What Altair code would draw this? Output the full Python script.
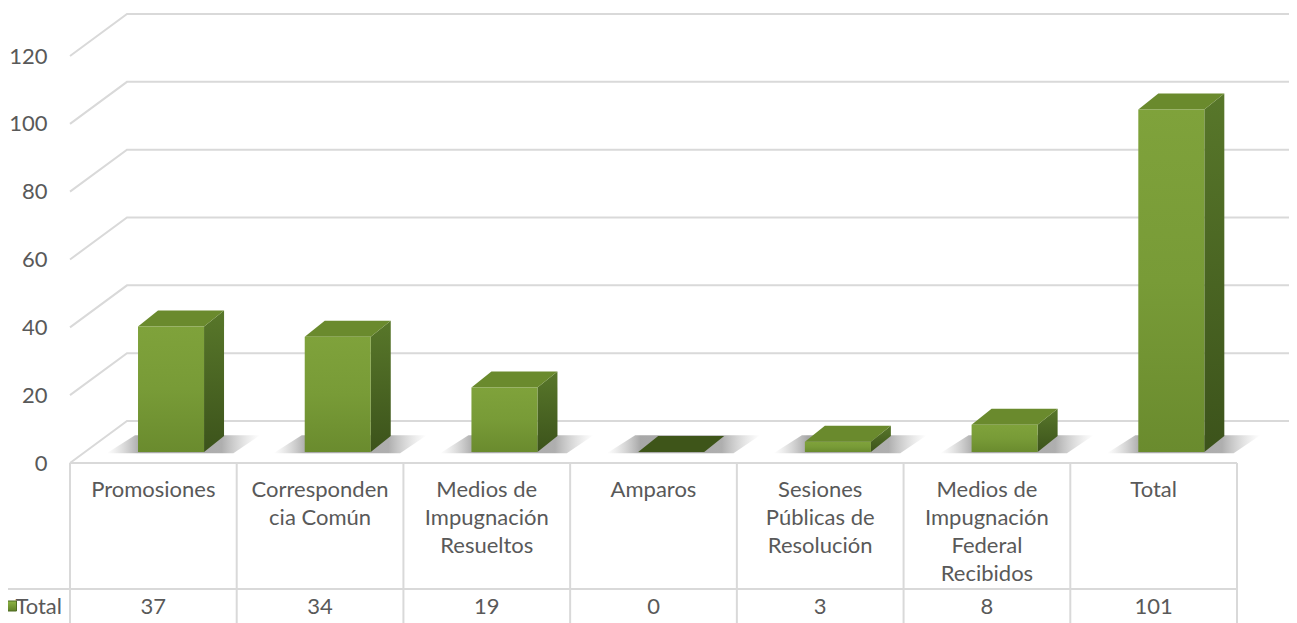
import altair as alt
import pandas as pd

# ---------------- data ----------------
categories = [
    "Promosiones",
    "Corresponden\ncia Común",
    "Medios de\nImpugnación\nResueltos",
    "Amparos",
    "Sesiones\nPúblicas de\nResolución",
    "Medios de\nImpugnación\nFederal\nRecibidos",
    "Total",
]
values = [37, 34, 19, 0, 3, 8, 101]
series_name = "Total"
y_ticks = [0, 20, 40, 60, 80, 100, 120]

# ---------------- layout constants ----------------
n = len(categories)
PLOT_W, PLOT_H = 1167, 407
PX = PLOT_H / y_ticks[-1]          # pixels per value unit
COL = PLOT_W / n                   # pixels per column unit

FACE_L, FACE_R = 0.408, 0.804      # front face within a column (column units)
DEPTH_X = 20 / COL                 # 3D depth offset (column units)
DEPTH_Y = 16 / PX                  # 3D depth offset (value units)
BAR_BASE = 11 / PX                 # bars stand at mid depth
WALL_X, WALL_Y = 57 / COL, 42 / PX # back wall offset
GRID_END = 7.4

def below(px):
    return -px / PX

HDR_BOTTOM = below(126)
HDR_BASE = below(34)
VAL_BASE = below(151)
TABLE_BOTTOM = below(170)

FONT = "Lato"
TXT = "#595959"
LINE = "#d9d9d9"

bars = pd.DataFrame({"category": categories, "value": values, "idx": list(range(n))})
grid = pd.DataFrame({"g": y_ticks})
bounds = pd.DataFrame({"edge": list(range(n + 1))})
series = pd.DataFrame({"series": [series_name]})

xs = alt.Scale(domain=[0, n], nice=False, zero=False)
ys = alt.Scale(domain=[0, y_ticks[-1]], nice=False, zero=False)
yax = alt.Axis(values=y_ticks, title=None, domain=False, ticks=False, grid=False,
               labelFont=FONT, labelFontSize=22, labelColor=TXT, labelPadding=23)


def X(f):
    return alt.X(f, scale=xs, axis=None, title=None)


def X2(f):
    return alt.X2(f)


def Y(f):
    return alt.Y(f, scale=ys, axis=yax, title=None)


def lin(c0, c1, vertical=True):
    return alt.Gradient(
        gradient="linear",
        stops=[alt.GradientStop(color=c0, offset=0), alt.GradientStop(color=c1, offset=1)],
        x1=0, y1=0, x2=0 if vertical else 1, y2=1 if vertical else 0,
    )


front_grad = alt.Gradient(
    gradient="linear",
    stops=[alt.GradientStop(color="#7fa23b", offset=0),
           alt.GradientStop(color="#789b37", offset=0.5),
           alt.GradientStop(color="#6a8b2e", offset=1)],
    x1=0, y1=0, x2=0, y2=1,
)
side_grad = lin("#58772a", "#3c531b")
shadow_grad = alt.Gradient(
    gradient="linear",
    stops=[alt.GradientStop(color="rgba(150,150,150,0)", offset=0),
           alt.GradientStop(color="rgba(95,95,95,0.55)", offset=0.22),
           alt.GradientStop(color="rgba(95,95,95,0.5)", offset=0.75),
           alt.GradientStop(color="rgba(150,150,150,0)", offset=1)],
    x1=0, y1=0, x2=1, y2=0,
)

# ---------------- gridlines / walls ----------------
grid_layer = alt.Chart(grid).transform_calculate(
    k="[0, 1, 2]"
).transform_flatten(["k"]).transform_calculate(
    gx=f"datum.k == 0 ? 0 : (datum.k == 1 ? {WALL_X} : {GRID_END})",
    gy=f"datum.g + (datum.k == 0 ? 0 : {WALL_Y})",
).mark_line(color=LINE, strokeWidth=2).encode(
    x=X("gx:Q"), y=Y("gy:Q"), detail="g:N", order="k:Q"
)

# ---------------- bar shadows (parallelogram on the floor) ----------------
shadow_layer = alt.Chart(bars).transform_calculate(
    k="[0, 1]"
).transform_flatten(["k"]).transform_calculate(
    sx=f"datum.idx + 0.22 + datum.k * 0.17",
    sx2=f"datum.idx + 0.98 + datum.k * 0.16",
    sy=f"{BAR_BASE} - 0.35 + datum.k * {DEPTH_Y + 0.6}",
).mark_area(orient="horizontal", color=shadow_grad).encode(
    y=Y("sy:Q"), x=X("sx:Q"), x2=X2("sx2"), detail="category:N"
)

# ---------------- 3D bar faces ----------------
side_layer = alt.Chart(bars).transform_calculate(
    k="[0, 1]"
).transform_flatten(["k"]).transform_calculate(
    sx=f"datum.idx + {FACE_R} + datum.k * {DEPTH_X}",
    sy=f"{BAR_BASE} + datum.value + datum.k * {DEPTH_Y}",
    sy2=f"{BAR_BASE} + datum.k * {DEPTH_Y}",
).mark_area(color=side_grad).encode(
    x=X("sx:Q"), y=Y("sy:Q"), y2=alt.Y2("sy2"), detail="category:N"
)

top_layer = alt.Chart(bars).transform_calculate(
    k="[0, 1]"
).transform_flatten(["k"]).transform_calculate(
    tx=f"datum.idx + {FACE_L} + datum.k * {DEPTH_X}",
    tx2=f"datum.idx + {FACE_R} + datum.k * {DEPTH_X}",
    ty=f"{BAR_BASE} + datum.value + datum.k * {DEPTH_Y}",
).mark_area(orient="horizontal").encode(
    y=Y("ty:Q"), x=X("tx:Q"), x2=X2("tx2"), detail="category:N",
    color=alt.condition("datum.value == 0", alt.value("#3e5519"), alt.value("#6a8a2d")),
)

front_layer = alt.Chart(bars).transform_filter("datum.value > 0").transform_calculate(
    fx=f"datum.idx + {FACE_L}",
    fx2=f"datum.idx + {FACE_R}",
    fy=f"{BAR_BASE}",
    fy2=f"{BAR_BASE} + datum.value",
).mark_rect(color=front_grad).encode(
    x=X("fx:Q"), x2=X2("fx2"), y=Y("fy:Q"), y2=alt.Y2("fy2")
)

# ---------------- data table ----------------
vlines = alt.Chart(bounds).transform_calculate(
    t="0", b=f"{TABLE_BOTTOM}"
).mark_rule(color=LINE, strokeWidth=2).encode(
    x=X("edge:Q"), y=Y("t:Q"), y2=alt.Y2("b")
)

top_line = alt.Chart(series).transform_calculate(
    hx="0", hx2=f"{n}", hy="0"
).mark_rule(color=LINE, strokeWidth=2).encode(
    x=X("hx:Q"), x2=X2("hx2"), y=Y("hy:Q")
)

hdr_line = alt.Chart(series).transform_calculate(
    hx="-0.45", hx2=f"{n}", hy=f"{HDR_BOTTOM}"
).mark_rule(color=LINE, strokeWidth=2).encode(
    x=X("hx:Q"), x2=X2("hx2"), y=Y("hy:Q")
)

hdr_text = alt.Chart(bars).transform_calculate(
    tx="datum.idx + 0.5", ty=f"{HDR_BASE}"
).mark_text(
    lineBreak="\n", lineHeight=28, baseline="alphabetic", align="center",
    font=FONT, fontSize=22, color=TXT,
).encode(x=X("tx:Q"), y=Y("ty:Q"), text="category:N")

val_text = alt.Chart(bars).transform_calculate(
    tx="datum.idx + 0.5", ty=f"{VAL_BASE}"
).mark_text(
    baseline="alphabetic", align="center", font=FONT, fontSize=22, color=TXT,
).encode(x=X("tx:Q"), y=Y("ty:Q"), text="value:Q")

series_text = alt.Chart(series).transform_calculate(
    tx=f"{-8 / COL}", ty=f"{VAL_BASE}"
).mark_text(
    baseline="alphabetic", align="right", font=FONT, fontSize=22, color=TXT,
).encode(x=X("tx:Q"), y=Y("ty:Q"), text="series:N")

legend_key = alt.Chart(series).transform_calculate(
    kx=f"{-63 / COL}", kx2=f"{-53.5 / COL}",
    ky=f"{below(138)}", ky2=f"{below(148)}",
).mark_rect(color=lin("#8db445", "#5f8027"), stroke="#4e6b22", strokeWidth=1).encode(
    x=X("kx:Q"), x2=X2("kx2"), y=Y("ky:Q"), y2=alt.Y2("ky2")
)

chart = alt.layer(
    grid_layer, shadow_layer, side_layer, top_layer, front_layer,
    vlines, top_line, hdr_line, hdr_text, val_text, series_text, legend_key,
).properties(
    width=PLOT_W, height=PLOT_H,
    autosize=alt.AutoSizeParams(type="none"),
    padding={"left": 62, "top": 48, "right": 52, "bottom": 160},
    background="white",
).configure_view(stroke=None)

chart.save("out.html", embed_options={"renderer": "svg", "actions": False})
